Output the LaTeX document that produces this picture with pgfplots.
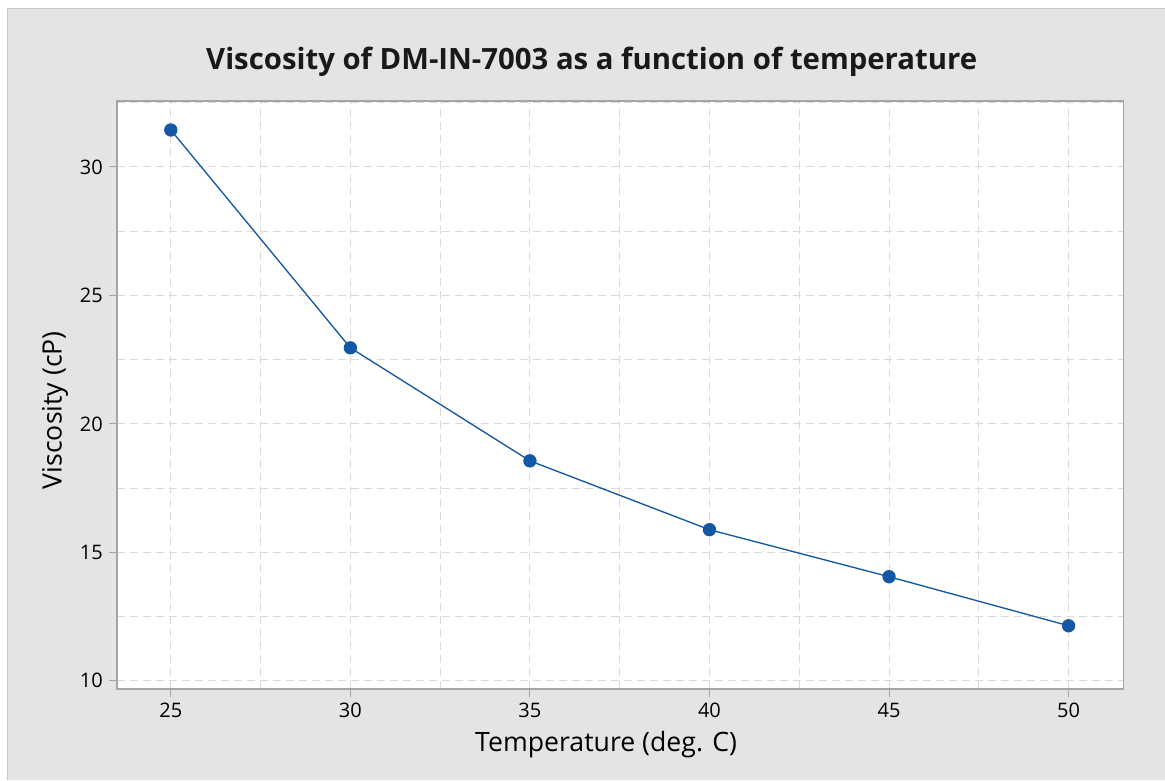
\documentclass[border=0pt]{standalone}
\usepackage{pgfplots}
\pgfplotsset{compat=1.18}
\usepackage{fontspec}
\setmainfont{Open Sans}
\definecolor{bg}{RGB}{228,228,230}
\definecolor{frame}{RGB}{200,200,202}
\definecolor{gridc}{RGB}{218,218,218}
\definecolor{axc}{RGB}{165,165,165}
\definecolor{lineblue}{RGB}{20,87,165}
\begin{document}
\begin{tikzpicture}
\fill[white] (0pt,0pt) rectangle (699pt,468pt);
\fill[bg] (4.8pt,0pt) rectangle (699pt,462.6pt);
\draw[frame,line width=0.6pt] (4.8pt,0pt) -- (4.8pt,462.6pt) -- (699pt,462.6pt);
\node[font=\fontsize{17.6}{21}\selectfont\bfseries, text=black!90, anchor=center] at (355.2pt,430.8pt) {Viscosity of DM-IN-7003 as a function of temperature};
\begin{axis}[
  at={(70.2pt,54.6pt)}, anchor=south west,
  scale only axis, width=604.2pt, height=352.8pt,
  xmin=23.5, xmax=51.53, ymin=9.69, ymax=32.57,
  xtick={25,30,...,50}, ytick={10,15,...,30},
  minor xtick={27.5,32.5,...,47.5}, minor ytick={12.5,17.5,...,32.5},
  grid=both,
  major grid style={gridc, dash pattern=on 4.8pt off 3pt, line width=0.6pt},
  minor grid style={gridc, dash pattern=on 4.8pt off 3pt, line width=0.6pt},
  axis line style={axc, line width=1.1pt},
  axis background/.style={fill=white},
  tick align=outside, major tick length=5pt, minor tick length=0pt,
  tick style={axc, line width=0.6pt},
  xtick pos=bottom, ytick pos=left,
  tick label style={font=\fontsize{12}{14}\selectfont},
  /pgf/number format/assume math mode=true,
  xlabel={Temperature (deg. C)},
  ylabel={Viscosity (cP)},
  label style={font=\fontsize{16}{19}\selectfont},
  xlabel style={at={(axis description cs:0.486,-0.095)}, anchor=center},
  ylabel style={at={(axis description cs:-0.0616,0.474)}, anchor=center},
  clip=false,
]
\addplot[lineblue, line width=0.8pt, mark=*, mark size=3.6pt, mark options={fill=lineblue, draw=lineblue}]
  coordinates {(25,31.44) (30,22.96) (35,18.56) (40,15.88) (45,14.05) (50,12.14)};
\end{axis}
\end{tikzpicture}
\end{document}
